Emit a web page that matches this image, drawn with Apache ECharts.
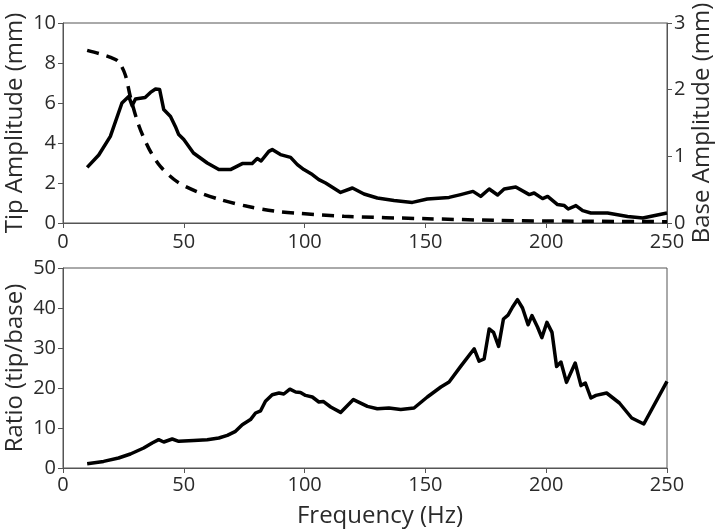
<!DOCTYPE html>
<html>
<head>
<meta charset="utf-8">
<script src="https://cdn.jsdelivr.net/npm/echarts@6/dist/echarts.min.js"></script>
<style>html,body{margin:0;padding:0;background:#fff}#c{width:720px;height:532px}</style>
</head>
<body>
<div id="c"></div>
<script>
// Tip amplitude (mm), left axis of top panel
const tipFreq = [10,14.8,19.6,24.4,27.2,28.6,30,34,36.2,38.3,40,41.7,44.5,46.5,47.9,50,54,59.7,64.5,69.3,74.2,78.3,80.4,82,85.2,86.6,90,94.2,97,99.7,103.2,105.9,108.7,114.9,119.8,124.6,130.1,137,144.6,150.8,159.8,164.6,169.7,172.9,176.4,179.9,182.6,187.4,193,195,198.5,200.6,204.7,207.5,209.1,212.3,215.1,218.5,225.4,233.7,240,250];
const tipAmp  = [2.78,3.4,4.33,6.0,6.33,5.87,6.2,6.28,6.53,6.7,6.67,5.67,5.33,4.83,4.42,4.17,3.5,3.0,2.67,2.67,2.97,2.97,3.22,3.1,3.58,3.67,3.42,3.28,2.92,2.67,2.42,2.17,2.0,1.53,1.75,1.45,1.25,1.13,1.03,1.2,1.28,1.42,1.58,1.33,1.7,1.4,1.7,1.8,1.42,1.5,1.22,1.33,0.92,0.87,0.7,0.87,0.62,0.5,0.5,0.33,0.25,0.5];
// Base amplitude (mm), right axis of top panel
const baseFreq = [10,15,20,23,25.8,27.9,31.3,35.5,40.3,47.2,55.5,65.2,76.3,87.3,95.6,116.3,150.8,178.5,200,250];
const baseAmp  = [2.59,2.54,2.48,2.42,2.22,1.89,1.47,1.12,0.85,0.62,0.47,0.35,0.25,0.18,0.15,0.10,0.064,0.04,0.03,0.02];
// Ratio (tip/base), bottom panel
const ratioFreq = [10,16.8,23,27.9,33.4,36.9,39.6,41.7,45.2,47.9,54.1,59.7,64.5,68,71.4,74.2,77.6,79.7,81.8,83.8,86.6,89.4,91.4,93.9,96.3,98.3,100.4,103.2,105.9,107.7,110.8,114.9,120.2,126,130.1,134.9,139.8,145.3,150.8,156.4,159.8,164.6,170.2,172.2,174.3,176.4,178.2,180.3,182.3,184.2,186.1,188.1,190.2,192.5,194.1,196.4,198.2,200.3,202.4,204.3,206.1,208.4,212,214.4,216.2,218.5,220.6,225,230.3,235.4,240.4,250];
const ratioVal  = [1.08,1.65,2.5,3.5,5.0,6.25,7.08,6.5,7.25,6.67,6.9,7.08,7.5,8.17,9.17,10.8,12.1,13.75,14.3,16.67,18.3,18.75,18.5,19.7,19.0,18.9,18.15,17.75,16.5,16.65,15.25,13.9,17.1,15.4,14.8,15,14.65,15,17.75,20.25,21.5,25.4,29.8,26.7,27.25,34.75,33.9,30.4,37.25,38.2,40.25,42.1,40.0,35.8,38.1,35.25,32.6,36.4,33.9,25.4,26.5,21.4,26.25,20.6,21.25,17.5,18.15,18.75,16.25,12.5,11.0,21.65];

const pairs = (xs, ys) => xs.map((x, i) => [x, ys[i]]);
const FONT = 'Open Sans';
const TXT = '#2a2a2a';
const AX = '#555';

const axisCommon = {
  axisLine: {show: true, lineStyle: {color: AX, width: 1}},
  axisTick: {show: true, inside: false, length: 5, lineStyle: {color: AX}},
  splitLine: {show: false},
  nameMoveOverlap: false,
  axisLabel: {color: TXT, fontFamily: FONT, fontSize: 20},
  nameTextStyle: {color: TXT, fontFamily: FONT, fontSize: 24}
};

const chart = echarts.init(document.getElementById('c'), null, {renderer: 'canvas'});
chart.setOption({
  animation: false,
  backgroundColor: '#fff',
  grid: [
    {left: 63, right: 53, top: 23, height: 200, show: true, borderColor: AX, borderWidth: 1, backgroundColor: 'transparent', containLabel: false, outerBoundsMode: 'none'},
    {left: 63, right: 53, top: 268, height: 200, show: true, borderColor: AX, borderWidth: 1, backgroundColor: 'transparent', containLabel: false, outerBoundsMode: 'none'}
  ],
  xAxis: [
    Object.assign({}, axisCommon, {gridIndex: 0, type: 'value', min: 0, max: 250, interval: 50,
      axisLabel: Object.assign({}, axisCommon.axisLabel, {margin: 9})}),
    Object.assign({}, axisCommon, {gridIndex: 1, type: 'value', min: 0, max: 250, interval: 50,
      axisLabel: Object.assign({}, axisCommon.axisLabel, {margin: 7}),
      name: 'Frequency (Hz)', nameLocation: 'middle', nameGap: 36,
      nameTextStyle: Object.assign({}, axisCommon.nameTextStyle, {padding: [0, 0, 0, 30]})})
  ],
  yAxis: [
    Object.assign({}, axisCommon, {gridIndex: 0, type: 'value', min: 0, max: 10, interval: 2, position: 'left',
      axisLabel: Object.assign({}, axisCommon.axisLabel, {margin: 7}),
      name: 'Tip Amplitude (mm)', nameLocation: 'middle', nameRotate: 90, nameGap: 36}),
    Object.assign({}, axisCommon, {gridIndex: 0, type: 'value', min: 0, max: 3, interval: 1, position: 'right',
      axisLabel: Object.assign({}, axisCommon.axisLabel, {margin: 7}),
      name: 'Base Amplitude (mm)', nameLocation: 'middle', nameRotate: 90, nameGap: 23}),
    Object.assign({}, axisCommon, {gridIndex: 1, type: 'value', min: 0, max: 50, interval: 10, position: 'left',
      axisLabel: Object.assign({}, axisCommon.axisLabel, {margin: 7}),
      name: 'Ratio (tip/base)', nameLocation: 'middle', nameRotate: 90, nameGap: 36})
  ],
  series: [
    {type: 'line', xAxisIndex: 0, yAxisIndex: 0, data: pairs(tipFreq, tipAmp), showSymbol: false, symbol: 'none',
      lineStyle: {color: '#000', width: 3.5, join: 'round'}},
    {type: 'line', xAxisIndex: 0, yAxisIndex: 1, data: pairs(baseFreq, baseAmp), showSymbol: false, symbol: 'none', smooth: 0.3,
      lineStyle: {color: '#000', width: 3.5, type: [12, 8]}},
    {type: 'line', xAxisIndex: 1, yAxisIndex: 2, data: pairs(ratioFreq, ratioVal), showSymbol: false, symbol: 'none',
      lineStyle: {color: '#000', width: 3.5, join: 'round'}}
  ]
});
</script>
</body>
</html>
